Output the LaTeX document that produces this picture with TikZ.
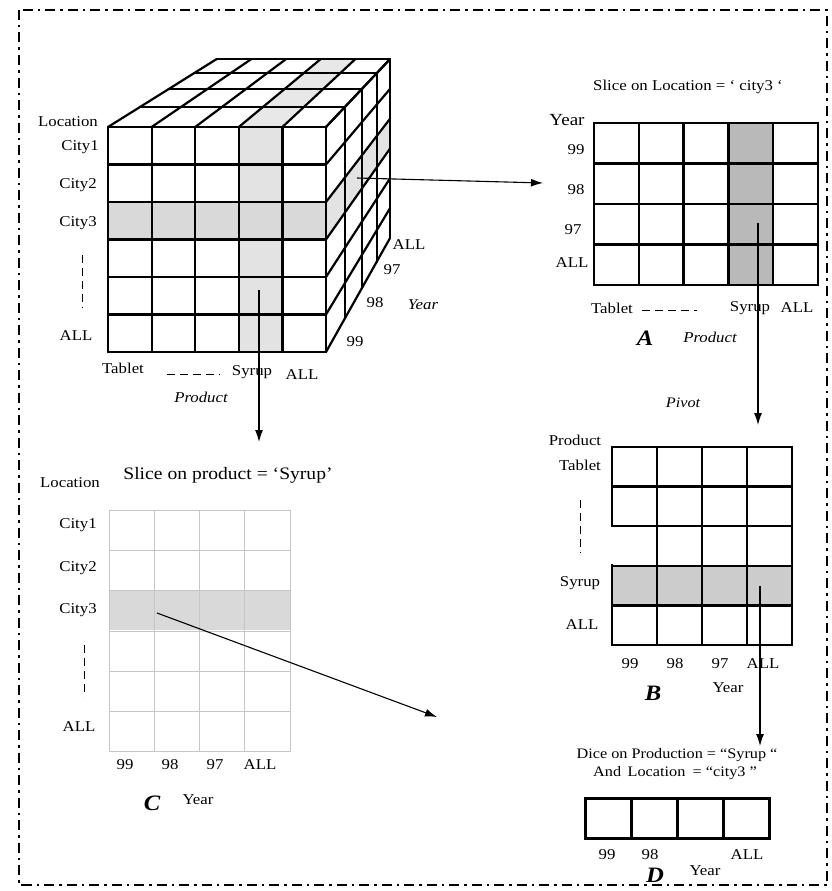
\documentclass[tikz,border=0pt]{standalone}
\usepackage{fontspec}
\setmainfont[FakeStretch=1.12]{Liberation Serif}
\usetikzlibrary{calc,arrows.meta}
\begin{document}
\begin{tikzpicture}[x=1pt,y=-1pt,
  lbl/.style={font=\fontsize{15}{17}\selectfont, inner sep=0pt},
  ilbl/.style={font=\fontsize{15}{17}\selectfont\itshape, inner sep=0pt},
  big/.style={font=\fontsize{22}{24}\selectfont\bfseries\itshape, inner sep=0pt},
  cubeline/.style={line width=2.2pt, line cap=round, line join=round},
  gridline/.style={line width=2.4pt, line cap=rect},
  faint/.style={line width=0.8pt, draw=gray!45},
  arr/.style={line width=1.1pt, -{Latex[length=12pt,width=8pt]}},
  dashline/.style={line width=1pt, dash pattern=on 8pt off 5pt},
  frameline/.style={line width=2.2pt, dash pattern=on 10pt off 5pt on 2.5pt off 5pt}]
\useasboundingbox (0,0) rectangle (831,891);
\draw[frameline] (19,10) rectangle (827,885);

% ---------- cube ----------
\foreach \i in {0,...,5}{
  \foreach \j in {0,...,6}{
    \foreach \k in {0,...,4}{
      \coordinate (c-\i-\j-\k) at ($(639,-205)!{1/(1+0.0643*\k)}!(108+43.6*\i,127+37.5*\j)$);
    }}}
\fill[gray!22] (c-3-0-0) -- (c-4-0-0) -- (c-4-6-0) -- (c-3-6-0) -- cycle;
\fill[gray!30] (c-0-2-0) -- (c-5-2-0) -- (c-5-3-0) -- (c-0-3-0) -- cycle;
\fill[gray!18] (c-3-0-0) -- (c-4-0-0) -- (c-4-0-4) -- (c-3-0-4) -- cycle;
\fill[gray!22] (c-5-2-0) -- (c-5-3-0) -- (c-5-3-4) -- (c-5-2-4) -- cycle;
\foreach \i in {0,...,5} \draw[cubeline] (c-\i-0-0) -- (c-\i-6-0);
\foreach \j in {0,...,6} \draw[cubeline] (c-0-\j-0) -- (c-5-\j-0);
\foreach \i in {0,...,5} \draw[cubeline] (c-\i-0-0) -- (c-\i-0-4);
\foreach \k in {1,...,4} \draw[cubeline] (c-0-0-\k) -- (c-5-0-\k);
\foreach \j in {0,...,6} \draw[cubeline] (c-5-\j-0) -- (c-5-\j-4);
\foreach \k in {1,...,4} \draw[cubeline] (c-5-0-\k) -- (c-5-6-\k);

\node[lbl] (cLoc) at (68,122) {Location};
\node[lbl] (cC1) at (80,147) {City1};
\node[lbl] (cC2) at (78,185) {City2};
\node[lbl] (cC3) at (78,223) {City3};
\coordinate (cd1) at (82,255); \coordinate (cd2) at (82,308);
\draw[dashline] (cd1) -- (cd2);
\node[lbl] (cAll) at (76,336) {ALL};
\node[lbl] (cTab) at (123,368) {Tablet};
\coordinate (ch1) at (167,374); \coordinate (ch2) at (220,374);
\draw[dashline] (ch1) -- (ch2);
\node[lbl] (cSyr) at (252,372) {Syrup};
\node[lbl] (cAll2) at (302,375) {ALL};
\node[ilbl] (cProd) at (201,397) {Product};
\node[lbl] (cyAll) at (409,245) {ALL};
\node[lbl] (cy97) at (392,270) {97};
\node[lbl] (cy98) at (375,303) {98};
\node[ilbl] (cyYear) at (423,305) {Year};
\node[lbl] (cy99) at (355,342) {99};

% ---------- grid A ----------
\fill[gray!55] (730,123) rectangle (774,285);
\foreach \i in {0,...,5} \draw[gridline] (594+44.8*\i,123) -- (594+44.8*\i,285);
\foreach \j in {0,...,4} \draw[gridline] (594,123+40.5*\j) -- (818,123+40.5*\j);
\node[font=\fontsize{15}{17}\selectfont, inner sep=0pt] (aTitle) at (688,87) {Slice on Location = ‘ city3 ‘};
\node[font=\fontsize{17}{19}\selectfont, inner sep=0pt] (aYear) at (567,120) {Year};
\node[lbl] (a99) at (576,150) {99};
\node[lbl] (a98) at (576,190) {98};
\node[lbl] (a97) at (573,230) {97};
\node[lbl] (aAll) at (572,263) {ALL};
\node[lbl] (aTab) at (612,308) {Tablet};
\coordinate (ah1) at (642,310); \coordinate (ah2) at (697,310);
\draw[dashline] (ah1) -- (ah2);
\node[lbl] (aSyr) at (750,308) {Syrup};
\node[lbl] (aAll2) at (797,308) {ALL};
\node[big] (aA) at (645,338) {A};
\node[ilbl] (aProd) at (710,337) {Product};

% ---------- grid B ----------
\fill[gray!40] (612,565) rectangle (792,605);
\foreach \i in {1,...,4} \draw[gridline] (612+45*\i,447) -- (612+45*\i,645);
\draw[gridline] (612,447) -- (612,525);
\draw[gridline] (612,565) -- (612,645);
\foreach \j in {0,...,5} \draw[gridline] (612,447+39.6*\j) -- (792,447+39.6*\j);
\node[font=\fontsize{14.5}{16}\selectfont\itshape, inner sep=0pt] (bPivot) at (683,403) {Pivot};
\node[lbl] (bProd) at (575,440) {Product};
\node[lbl] (bTab) at (580,465) {Tablet};
\coordinate (bd1) at (580,500); \coordinate (bd2) at (580,553);
\draw[dashline] (bd1) -- (bd2);
\node[lbl] (bSyr) at (580,583) {Syrup};
\node[lbl] (bAll) at (582,625) {ALL};
\node[lbl] (b99) at (630,664) {99};
\node[lbl] (b98) at (675,664) {98};
\node[lbl] (b97) at (720,664) {97};
\node[lbl] (bAll2) at (763,664) {ALL};
\node[big] (bB) at (653,693) {B};
\node[lbl] (bYear) at (728,688) {Year};

% ---------- grid C ----------
\fill[gray!30] (109,590) rectangle (290,630);
\foreach \i in {0,...,4} \draw[faint] (109+45.25*\i,510) -- (109+45.25*\i,752);
\foreach \j in {0,...,6} \draw[faint] (109,510+40.3*\j) -- (290,510+40.3*\j);
\node[font=\fontsize{17.5}{20}\selectfont, inner sep=0pt] (cTitle) at (228,475) {Slice on product = ‘Syrup’};
\node[lbl] (gLoc) at (70,483) {Location};
\node[lbl] (gC1) at (78,525) {City1};
\node[lbl] (gC2) at (78,568) {City2};
\node[lbl] (gC3) at (78,610) {City3};
\coordinate (gd1) at (84,645); \coordinate (gd2) at (84,697);
\draw[dashline] (gd1) -- (gd2);
\node[lbl] (gAll) at (79,727) {ALL};
\node[lbl] (g99) at (125,765) {99};
\node[lbl] (g98) at (170,765) {98};
\node[lbl] (g97) at (215,765) {97};
\node[lbl] (gAll2) at (260,765) {ALL};
\node[big] (gC) at (152,803) {C};
\node[lbl] (gYear) at (198,800) {Year};

% ---------- grid D ----------
\foreach \i in {0,...,4} \draw[gridline, line width=3pt] (585+46*\i,798) -- (585+46*\i,838);
\foreach \j in {0,1} \draw[gridline, line width=3pt] (585,798+40*\j) -- (769,798+40*\j);
\node[font=\fontsize{14.5}{16}\selectfont, inner sep=0pt] (dT1) at (677,755) {Dice on Production = “Syrup “};
\node[font=\fontsize{14.5}{16}\selectfont, inner sep=0pt] (dT2) at (675,773) {And\, Location\enspace = “city3 ”};
\node[lbl] (d99) at (607,855) {99};
\node[lbl] (d98) at (650,855) {98};
\node[lbl] (dAll) at (747,855) {ALL};
\node[big] (dD) at (655,875) {D};
\node[lbl] (dYear) at (705,871) {Year};

% ---------- arrows ----------
\coordinate (cubeA) at (357,178); \coordinate (Ain) at (543,183);
\draw[arr] (cubeA) -- (Ain);
\coordinate (cubeC) at (259,290); \coordinate (Cin) at (259,442);
\draw[arr] (cubeC) -- (Cin);
\coordinate (Aout) at (758,223); \coordinate (Bin) at (758,425);
\draw[arr] (Aout) -- (Bin);
\coordinate (Bout) at (760,586); \coordinate (Din) at (760,746);
\draw[arr] (Bout) -- (Din);
\coordinate (Cout) at (157,613); \coordinate (Cend) at (437,717);
\draw[arr] (Cout) -- (Cend);
\end{tikzpicture}
\end{document}
